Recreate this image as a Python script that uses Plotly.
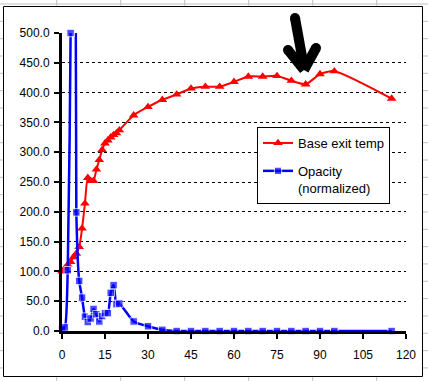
import plotly.graph_objects as go

# ---- data ----
time_min = [0, 1, 2, 3, 4, 5, 6, 7, 8, 9, 10, 11, 12, 13, 14, 15, 16, 17, 18, 19, 20,
            25, 30, 35, 40, 45, 50, 55, 60, 65, 70, 75, 80, 85, 90, 95, 115]
base_exit_temp = [100, 105, 111, 116, 124, 130, 141, 172, 214, 257, 252, 252, 271, 287, 304,
                  315, 320, 325, 329, 332, 337,
                  362, 376, 388, 397, 407, 410, 410, 418, 427, 427, 428, 420, 414, 431, 436, 390]
opacity_norm = [3, 6, 102, 500, 2500, 199, 84, 56, 24, 15, 21, 37, 28, 16, 25, 30, 30, 64, 77, 45, 46,
                16, 8, 2, 0, 0, 0, 0, 0, 0, 0, 0, 0, 0, 0, 0, 0]
x_ticks = [0, 15, 30, 45, 60, 75, 90, 105, 120]
y_ticks = [0, 50, 100, 150, 200, 250, 300, 350, 400, 450, 500]

W, H = 428, 381
L, R, T, B = 62, 406, 33, 331


def PX(x):
    return (x - L) / (R - L)


def PY(y):
    return (B - y) / (B - T)


Y_MAX = 500
blue_sizes = [7.5 if v <= Y_MAX else 0 for v in opacity_norm]

fig = go.Figure()
fig.add_trace(go.Scatter(
    x=time_min, y=base_exit_temp, name="Base exit temp", legendgroup="a",
    mode="lines+markers", line=dict(color="#ff0000", width=2, shape="spline", smoothing=0.6),
    marker=dict(symbol="triangle-up", size=8.5, color="#ff0000"), cliponaxis=False))
fig.add_trace(go.Scatter(
    x=time_min, y=opacity_norm, name="Opacity<br>(normalized)", legendgroup="b",
    mode="lines+markers", line=dict(color="#0000ff", width=2.5, shape="spline", smoothing=0.6),
    marker=dict(symbol="square", size=blue_sizes, color="#0000ff"), cliponaxis=False))

shapes = []
grid = "#c0c0c0"
# spreadsheet cell grid behind the chart
k = 0
while True:
    y = 4 + 17.33 * k
    if y > H:
        break
    shapes.append(dict(type="line", xref="paper", yref="paper", x0=PX(0), x1=PX(W),
                       y0=PY(y), y1=PY(y), line=dict(color=grid, width=1), layer="below"))
    k += 1
for cx in [56.7, 120.7, 184.7, 248.7, 312.7, 376.7]:
    shapes.append(dict(type="line", xref="paper", yref="paper", x0=PX(cx), x1=PX(cx),
                       y0=PY(0), y1=PY(H), line=dict(color=grid, width=1), layer="below"))
# chart area
shapes.append(dict(type="rect", xref="paper", yref="paper", x0=PX(3.5), x1=PX(422.5),
                   y0=PY(6.5), y1=PY(376.5), fillcolor="white",
                   line=dict(color="black", width=1), layer="below"))
# hand-drawn arrow
arrow_segs = [((295, 18), (303, 62)), ((288, 50), (304, 70)), ((316, 48), (304, 70))]
for (a, b) in arrow_segs:
    shapes.append(dict(type="line", xref="paper", yref="paper", x0=PX(a[0]), y0=PY(a[1]),
                       x1=PX(b[0]), y1=PY(b[1]), line=dict(color="black", width=10)))
for (cx, cy) in [(295, 18), (288, 50), (316, 48), (303, 60)]:
    r = 5
    shapes.append(dict(type="circle", xref="paper", yref="paper", x0=PX(cx - r), x1=PX(cx + r),
                       y0=PY(cy + r), y1=PY(cy - r), fillcolor="black", line=dict(width=0)))

fig.update_layout(
    width=W, height=H,
    margin=dict(l=L, r=W - R, t=T, b=H - B, pad=0),
    paper_bgcolor="white", plot_bgcolor="rgba(0,0,0,0)",
    font=dict(family="Liberation Sans, Arial, sans-serif", size=12, color="black"),
    shapes=shapes,
    showlegend=True,
    legend=dict(x=PX(257), y=PY(127), xanchor="left", yanchor="top",
                bgcolor="white", bordercolor="black", borderwidth=1, valign="top",
                font=dict(size=13), tracegroupgap=8, itemwidth=30),
    xaxis=dict(range=[0, 120], tickvals=x_ticks, ticktext=[str(v) for v in x_ticks],
               showgrid=False, zeroline=False, showline=True, linecolor="black", linewidth=3,
               ticks="outside", ticklen=5, tickwidth=2, tickcolor="black",
               ticklabelstandoff=6, fixedrange=True),
    yaxis=dict(range=[0, Y_MAX], tickvals=y_ticks, ticktext=[f"{v:.1f}" for v in y_ticks],
               showgrid=True, gridcolor="black", gridwidth=1, griddash="3px,3px",
               zeroline=False, showline=True, linecolor="black", linewidth=3,
               ticks="outside", ticklen=5, tickwidth=2, tickcolor="black",
               ticklabelstandoff=2, fixedrange=True),
)

fig.write_html("out.html", config={"displayModeBar": False},
               post_script="document.body.style.margin='0';document.body.style.overflow='hidden';")
